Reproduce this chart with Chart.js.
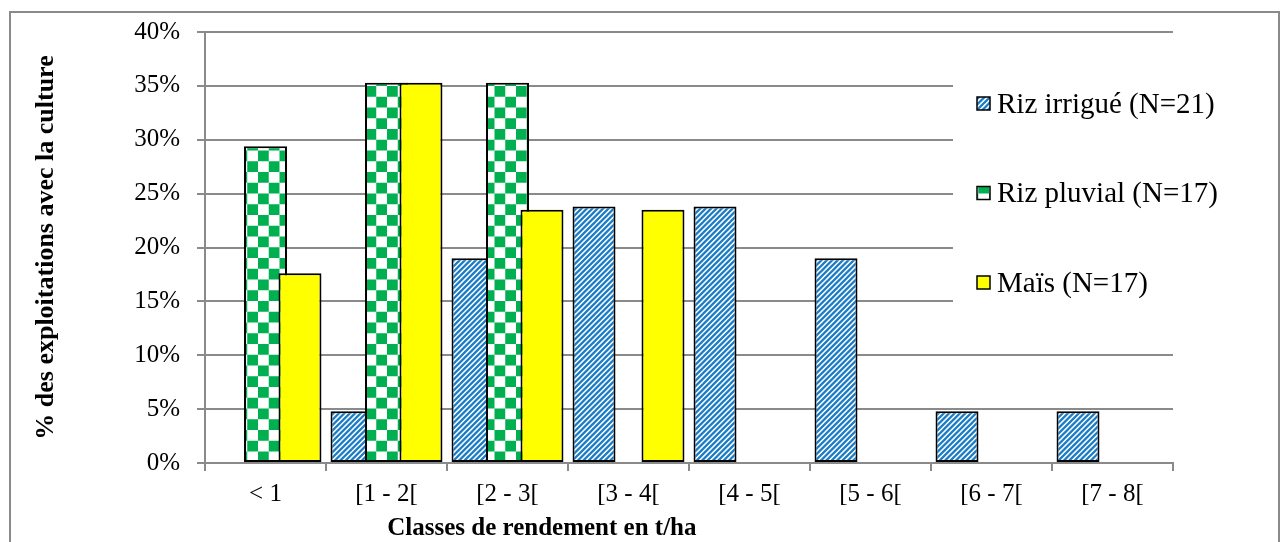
<!DOCTYPE html>
<html>
<head>
<meta charset="utf-8">
<script src="https://cdn.jsdelivr.net/npm/chart.js@4.4.1/dist/chart.umd.min.js"></script>
<style>
  html, body { margin: 0; padding: 0; background: #fff; }
  canvas { display: block; }
</style>
</head>
<body>
<canvas id="chart" width="1282" height="542"></canvas>
<script>
// Yield classes (t/ha) and share of farms growing each crop (%)
const categories = ['< 1', '[1 - 2[', '[2 - 3[', '[3 - 4[', '[4 - 5[', '[5 - 6[', '[6 - 7[', '[7 - 8['];
const rizIrrigue = [0, 4.8, 19.0, 23.8, 23.8, 19.0, 4.8, 4.8];
const rizPluvial = [29.4, 35.3, 35.3, 0, 0, 0, 0, 0];
const mais = [17.6, 35.3, 23.5, 23.5, 0, 0, 0, 0];
const seriesLabels = ['Riz irrigué (N=21)', 'Riz pluvial (N=17)', 'Maïs (N=17)'];
const yTickValues = [0, 5, 10, 15, 20, 25, 30, 35, 40];
const xTitle = 'Classes de rendement en t/ha';
const yTitle = '% des exploitations avec la culture';

const FONT = "'Liberation Serif', 'Times New Roman', serif";
const GRID = '#8a8a8a';

// Blue upward diagonal hatch
function stripePattern() {
  const s = 27, period = 5.4, w = period * 0.6;
  const c = document.createElement('canvas');
  c.width = c.height = s;
  const g = c.getContext('2d');
  g.fillStyle = '#fff';
  g.fillRect(0, 0, s, s);
  g.fillStyle = '#1b7cc5';
  for (let k = -7; k <= 7; k++) {
    const x0 = k * period;
    g.beginPath();
    g.moveTo(x0, s);
    g.lineTo(x0 + w, s);
    g.lineTo(x0 + w + s, 0);
    g.lineTo(x0 + s, 0);
    g.closePath();
    g.fill();
  }
  return g.createPattern(c, 'repeat');
}

// Green/white checkerboard
function checkerPattern() {
  const n = 4, cell = 10.75, s = n * cell;
  const c = document.createElement('canvas');
  c.width = c.height = s;
  const g = c.getContext('2d');
  g.fillStyle = '#fff';
  g.fillRect(0, 0, s, s);
  g.fillStyle = '#00b050';
  for (let i = 0; i < n; i++) {
    for (let j = 0; j < n; j++) {
      if ((i + j) % 2 === 0) g.fillRect(i * cell, j * cell, cell, cell);
    }
  }
  return g.createPattern(c, 'repeat');
}

const fills = [stripePattern(), checkerPattern(), '#ffff00'];
const seriesData = [rizIrrigue, rizPluvial, mais];

// Later series are painted over earlier ones where bars overlap
const seriesOrderPlugin = {
  id: 'seriesOrder',
  beforeDatasetsDraw(chart) {
    for (let i = 0; i < chart.data.datasets.length; i++) {
      const meta = chart.getDatasetMeta(i);
      if (!meta.hidden) meta.controller.draw();
    }
    return false;
  }
};

const framePlugin = {
  id: 'frame',
  beforeDraw(chart) {
    const ctx = chart.ctx;
    ctx.save();
    ctx.fillStyle = '#fff';
    ctx.fillRect(0, 0, chart.width, chart.height);
    ctx.strokeStyle = GRID;
    ctx.lineWidth = 2;
    ctx.strokeRect(10, 12, chart.width - 13, chart.height + 40);
    ctx.restore();
  }
};

const legendAndTitlePlugin = {
  id: 'legendAndTitle',
  afterDraw(chart) {
    const ctx = chart.ctx;
    const a = chart.chartArea;
    ctx.save();
    // legend panel
    ctx.fillStyle = '#fff';
    ctx.fillRect(953, 58, 280, 266);
    ctx.font = '29px ' + FONT;
    ctx.textBaseline = 'middle';
    ctx.textAlign = 'left';
    chart.data.datasets.forEach((ds, i) => {
      const cy = 104 + i * 89.5;
      ctx.fillStyle = ds.backgroundColor;
      ctx.fillRect(977, cy - 7, 13, 13);
      ctx.strokeStyle = '#000';
      ctx.lineWidth = 1.5;
      ctx.strokeRect(977, cy - 7, 13, 13);
      ctx.fillStyle = '#000';
      ctx.fillText(ds.label, 997, cy + 1);
    });
    // x-axis title
    ctx.font = 'bold 25px ' + FONT;
    ctx.textAlign = 'center';
    ctx.fillText(xTitle, a.left + 0.348 * (a.right - a.left), 529);
    ctx.restore();
  }
};

new Chart(document.getElementById('chart'), {
  type: 'bar',
  data: {
    labels: categories,
    datasets: seriesData.map((d, i) => ({
      label: seriesLabels[i],
      data: d,
      backgroundColor: fills[i],
      borderColor: '#000',
      borderWidth: 2,
      borderSkipped: false
    }))
  },
  options: {
    responsive: false,
    animation: false,
    devicePixelRatio: 1,
    layout: { padding: { left: 0, top: 26, right: 109, bottom: 0 } },
    datasets: { bar: { categoryPercentage: 0.855, barPercentage: 1.246 } },
    plugins: { legend: { display: false }, tooltip: { enabled: false } },
    scales: {
      x: {
        grid: { display: true, drawOnChartArea: false, drawTicks: true, tickLength: 8, color: GRID, lineWidth: 2, offset: true },
        border: { color: GRID, width: 2 },
        ticks: { font: { family: FONT, size: 25 }, color: '#000', padding: 8, maxRotation: 0, autoSkip: false },
        afterFit(scale) { scale.height = 79; }
      },
      y: {
        min: 0,
        max: 40,
        afterBuildTicks(scale) { scale.ticks = yTickValues.map(v => ({ value: v })); },
        ticks: { callback: v => v + '%', font: { family: FONT, size: 25 }, color: '#000', padding: 17 },
        grid: { color: GRID, lineWidth: 2, tickLength: 8 },
        border: { color: GRID, width: 2 },
        title: { display: true, text: yTitle, color: '#000', font: { family: FONT, size: 26, weight: 'bold' }, padding: { top: 31, bottom: 0 } },
        afterFit(scale) { scale.width = 205; }
      }
    }
  },
  plugins: [framePlugin, seriesOrderPlugin, legendAndTitlePlugin]
});
</script>
</body>
</html>
